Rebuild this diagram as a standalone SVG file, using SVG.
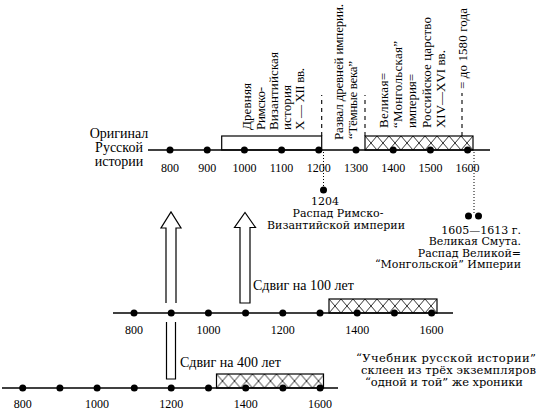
<svg xmlns="http://www.w3.org/2000/svg" width="540" height="412" viewBox="0 0 540 412">
<style>
.ax{stroke:#000;stroke-width:1.3;fill:none}
.box{stroke:#000;stroke-width:1.2;fill:none}
.hb{stroke:#000;stroke-width:1.2;fill:url(#hatch)}
.dash{stroke:#000;stroke-width:1.1;stroke-dasharray:4 4;fill:none}
.dot2{stroke:#000;stroke-width:1;stroke-dasharray:1 2;fill:none}
.arr{stroke:#000;stroke-width:1.2;fill:#fff}
text{font-family:"Liberation Serif","Times New Roman",serif;fill:#000}
.num{font-size:12px;text-anchor:middle}
.v{font-size:13px}
.lab{font-size:14px}
.s{font-family:"DejaVu Serif","Liberation Serif",serif;font-size:11px}
.n{font-family:"DejaVu Serif","Liberation Serif",serif;font-size:11.5px}
</style>
<defs>
<pattern id="hatch" patternUnits="userSpaceOnUse" width="12" height="14">
<path d="M0,0 L12,14 M12,0 L0,14" stroke="#000" stroke-width="0.8"/>
</pattern>
</defs>
<rect width="540" height="412" fill="#fff"/>

<g id="top-timeline">
<line class="ax" x1="148" y1="150" x2="490" y2="150"/>
<rect class="box" x="221.7" y="136" width="100" height="14"/>
<g transform="translate(365,136)"><rect class="hb" width="108" height="14"/></g>
<g fill="#000">
<circle cx="170" cy="150" r="3.5"/><circle cx="207.2" cy="150" r="3.5"/><circle cx="244.4" cy="150" r="3.5"/><circle cx="281.6" cy="150" r="3.5"/><circle cx="318.8" cy="150" r="3.5"/><circle cx="356" cy="150" r="3.5"/><circle cx="393.2" cy="150" r="3.5"/><circle cx="430.4" cy="150" r="3.5"/><circle cx="467.6" cy="150" r="3.5"/>
</g>
<text class="num" x="170" y="172">800</text><text class="num" x="207.2" y="172">900</text><text class="num" x="244.4" y="172">1000</text><text class="num" x="281.6" y="172">1100</text><text class="num" x="318.8" y="172">1200</text><text class="num" x="356" y="172">1300</text><text class="num" x="393.2" y="172">1400</text><text class="num" x="430.4" y="172">1500</text><text class="num" x="467.6" y="172">1600</text>
</g>

<g id="title-label">
<text class="lab" text-anchor="middle" x="119" y="138">Оригинал</text>
<text class="lab" text-anchor="middle" x="119" y="152">Русской</text>
<text class="lab" text-anchor="middle" x="119" y="166">истории</text>
</g>

<g id="ancient-label">
<line class="dash" x1="321.7" y1="136" x2="321.7" y2="95"/>
<text class="v" transform="translate(251,130) rotate(-90)" textLength="47">Древняя</text>
<text class="v" transform="translate(264.5,130) rotate(-90)" textLength="43">Римско-</text>
<text class="v" transform="translate(278,130) rotate(-90)" textLength="78">Византийская</text>
<text class="v" transform="translate(291,130) rotate(-90)" textLength="45">история</text>
<text class="v" transform="translate(304,130) rotate(-90)" textLength="62">X — XII вв.</text>
</g>

<g id="dark-ages-label">
<text class="v" transform="translate(343,140) rotate(-90)" textLength="136">Развал древней империи.</text>
<text class="v" transform="translate(356.5,139) rotate(-90)" textLength="78">“Тёмные века”</text>
</g>

<g id="mongol-label">
<line class="dash" x1="365" y1="136" x2="365" y2="95"/>
<text class="v" transform="translate(388,128) rotate(-90)" textLength="55">Великая=</text>
<text class="v" transform="translate(402,128) rotate(-90)" textLength="87">“Монгольская”</text>
<text class="v" transform="translate(416,128) rotate(-90)" textLength="54">империя=</text>
<text class="v" transform="translate(431,128) rotate(-90)" textLength="111">Российское царство</text>
<text class="v" transform="translate(445,128) rotate(-90)" textLength="78">XIV—XVI вв.</text>
<line class="dash" x1="462" y1="136" x2="462" y2="93"/>
<text class="v" transform="translate(466.5,89) rotate(-90)" textLength="81">= до 1580 года</text>
</g>

<g id="event-1204">
<line class="dot2" x1="323.5" y1="152" x2="323.5" y2="187"/>
<circle cx="323.5" cy="190" r="3.5" fill="#000"/>
<text class="s" text-anchor="middle" x="325" y="205">1204</text>
<text class="s" text-anchor="middle" x="338" y="217">Распад Римско-</text>
<text class="s" text-anchor="middle" x="336" y="229">Византийской империи</text>
</g>

<g id="event-smuta">
<line class="dot2" x1="474" y1="152" x2="474" y2="213"/>
<circle cx="468.5" cy="216" r="3.5" fill="#000"/>
<circle cx="478.5" cy="216" r="3.5" fill="#000"/>
<text class="s" text-anchor="end" x="521" y="233.5">1605—1613 г.</text>
<text class="s" text-anchor="end" x="521" y="245">Великая Смута.</text>
<text class="s" text-anchor="end" x="521" y="256.5">Распад Великой=</text>
<text class="s" text-anchor="end" x="521" y="268">“Монгольской” Империи</text>
</g>

<g id="middle-timeline">
<line class="ax" x1="113" y1="313" x2="453" y2="313"/>
<g transform="translate(329,299)"><rect class="hb" width="108" height="14"/></g>
<g fill="#000">
<circle cx="134" cy="313" r="3.5"/><circle cx="171.2" cy="313" r="3.5"/><circle cx="208.4" cy="313" r="3.5"/><circle cx="245.6" cy="313" r="3.5"/><circle cx="282.8" cy="313" r="3.5"/><circle cx="320" cy="313" r="3.5"/><circle cx="357.2" cy="313" r="3.5"/><circle cx="394.4" cy="313" r="3.5"/><circle cx="431.6" cy="313" r="3.5"/>
</g>
<text class="num" x="134" y="334">800</text><text class="num" x="208.4" y="334">1000</text><text class="num" x="282.8" y="334">1200</text><text class="num" x="357.2" y="334">1400</text><text class="num" x="431.6" y="334">1600</text>
</g>

<g id="bottom-timeline">
<line class="ax" x1="2" y1="388" x2="338" y2="388"/>
<g transform="translate(216.5,374)"><rect class="hb" width="107" height="14"/></g>
<g fill="#000">
<circle cx="22.7" cy="388" r="3.5"/><circle cx="59.9" cy="388" r="3.5"/><circle cx="97.1" cy="388" r="3.5"/><circle cx="134.3" cy="388" r="3.5"/><circle cx="171.2" cy="388" r="3.5"/><circle cx="208.5" cy="388" r="3.5"/><circle cx="245.7" cy="388" r="3.5"/><circle cx="282.9" cy="388" r="3.5"/><circle cx="320.1" cy="388" r="3.5"/>
</g>
<text class="num" x="22.7" y="408">800</text><text class="num" x="97.1" y="408">1000</text><text class="num" x="171.2" y="408">1200</text><text class="num" x="245.7" y="408">1400</text><text class="num" x="320.1" y="408">1600</text>
</g>

<g id="connectors">
<path class="arr" d="M166,303 V228 H161 L171,212 L181,228 H176 V303"/>
<path class="arr" d="M166.5,322 V379 H175.5 V322"/>
<path class="arr" d="M240,303 V227.5 H234.5 L245,212.5 L255.5,227.5 H250 V303 Z"/>
</g>

<g id="shift-labels">
<text class="lab" x="253" y="290">Сдвиг на 100 лет</text>
<text class="lab" x="180" y="367">Сдвиг на 400 лет</text>
</g>

<g id="note">
<text class="n" x="356" y="362" textLength="180">“Учебник русской истории”</text>
<text class="n" x="361" y="374" textLength="175">склеен из трёх экземпляров</text>
<text class="n" x="365" y="386" textLength="158">“одной и той” же хроники</text>
</g>
</svg>
